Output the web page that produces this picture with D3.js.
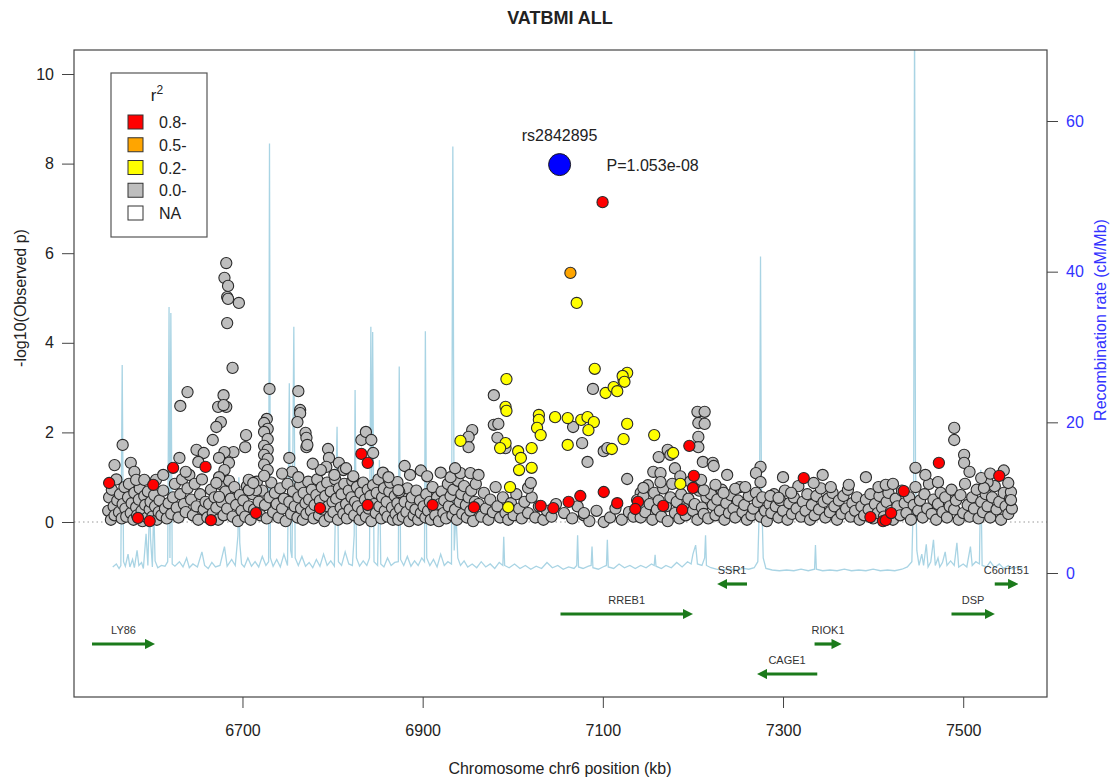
<!DOCTYPE html>
<html><head><meta charset="utf-8">
<script src="https://cdn.jsdelivr.net/npm/d3@7"></script>
<style>
body{margin:0;background:#fff;}
svg{font-family:"Liberation Sans",Arial,sans-serif;}
</style></head>
<body><svg id="c" width="1115" height="783"></svg>
<script>
// ---------- DATA ----------
const chartTitle = "VATBMI ALL";
const xTicks = [6700, 6900, 7100, 7300, 7500];
const yTicks = [0, 2, 4, 6, 8, 10];
const recTicks = [0, 20, 40, 60];
const legendLabels = ["0.8-", "0.5-", "0.2-", "0.0-", "NA"];
const legendColors = ["#ff0000", "#ffa500", "#ffff00", "#bebebe", "#ffffff"];

const leadSnp = {name: "rs2842895", kb: 7052, logp: 7.978, label: "P=1.053e-08"};

const orangePoints = [[7064, 5.56]];

const redPoints = [
 [7099.7,7.14],[7196,1.70],[7200,0.76],[7201,1.03],[7075,0.58],[7101,0.67],[7062,0.45],[7045,0.31],
 [7031,0.36],[6957,0.33],[6911,0.38],[7116,0.42],[7139,0.45],[7136,0.29],[7167,0.36],[7188,0.27],
 [6552,0.87],[6601,0.83],[6623,1.21],[6659,1.23],[6832,1.52],[6839,1.32],[6715,0.20],[6584,0.09],
 [6665,0.04],[6597,0.02],[6786,0.31],[6839,0.38],[7323,0.98],[7434,0.69],[7473,1.32],[7540,1.03],
 [7397,0.11],[7411,0.02],[7414,0.04],[7420,0.20]
];

const yellowPoints = [
 [7071,4.89],[7091,3.42],[6993,3.19],[6992,2.57],[6993,2.48],[6942,1.81],[6992,1.76],[6986,1.65],
 [7006,1.58],[7009,1.43],[7021,1.65],[7007,1.16],[7021,1.21],[7029,2.39],[7029,2.28],[7027,2.10],
 [7031,1.94],[7047,2.34],[7061,2.32],[7061,1.72],[7076,2.28],[7083,2.34],[7090,2.23],[7084,2.05],
 [7103,2.88],[7112,3.01],[7116,2.92],[7123,3.17],[7127,3.33],[7122,3.26],[7124,3.13],[7127,2.19],
 [7123,1.85],[7157,1.94],[7110,1.63],[7178,1.54],[7186,0.85],[6997,0.78],[6995,0.33]
];

const grayHigh = [
 [6682,5.78],[6680,5.45],[6684,5.27],[6683,5.02],[6684,4.98],[6696,4.89],[6683,4.44],[6689,3.44],
 [6639,2.90],[6631,2.59],[6679,2.83],[6673,2.57],[6682,2.57],[6679,2.61],[6676,2.23],[6671,2.12],
 [6667,1.83],[6704,1.94],[6703,1.67],[6730,2.97],[6727,2.30],[6724,2.21],[6728,2.08],[6724,2.01],
 [6728,1.85],[6724,1.70],[6728,1.61],[6724,1.50],[6728,1.41],[6724,1.28],[6728,1.16],[6724,1.03],
 [6762,2.92],[6764,2.50],[6764,2.43],[6761,2.23],[6770,1.99],[6771,1.88],[6771,1.67],[6567,1.72],
 [6558,1.27],[6576,1.32],[6580,1.12],[6582,0.94],[6604,0.94],[6591,0.94],[6630,1.43],[6637,1.12],
 [6649,1.61],[6657,1.54],[6651,1.34],[6690,1.56],[6680,1.56],[6674,1.43],[6685,1.32],[6680,1.16],
 [6674,1.00],[6671,0.87],[6707,0.94],[6712,0.87],[6752,1.43],[6755,1.12],[6762,1.00],[6795,1.63],
 [6796,1.43],[6793,1.23],[6787,1.16],[6807,1.32],[6812,1.16],[6832,1.83],[6837,2.01],[6843,1.83],
 [6845,1.54],[6872,0.89],[6873,0.71],[6979,2.83],[6979,2.17],[6984,2.19],[6955,2.05],[6951,1.90],
 [6951,1.67],[6983,1.88],[6992,1.65],[6931,1.00],[6942,1.09],[6953,1.09],[7089,2.97],[7067,2.12],
 [7077,1.76],[7083,1.34],[7101,1.58],[7105,1.65],[7127,0.96],[7162,1.45],[7172,1.61],[7175,1.50],
 [7205,2.46],[7206,2.21],[7213,2.46],[7213,2.19],[7206,1.90],[7206,1.67],[7156,1.12],[7164,1.09],
 [7164,0.89],[7145,0.76],[7020,0.87],[7211,1.34],[7222,1.32],[7223,1.25],[7209,0.94],[7275,1.23],
 [7270,1.09],[7275,0.89],[7334,0.87],[7447,1.21],[7472,0.89],[7490,2.10],[7490,1.83],[7501,1.50],
 [7501,1.32],[7507,1.12],[7520,0.98],[7550,0.87],[6772,1.72],
 [6778,1.30],[6802,1.05],[6815,1.20],[6823,1.02],[6856,1.10],[6862,1.00],[6880,1.25],[6886,1.05],
 [6898,1.15],[6905,1.02],[6920,1.10],[6936,1.20],[6962,1.05],[7180,1.20],[7186,1.02],[7238,1.05],
 [7300,1.00],[7344,1.05],[7392,1.00],[7458,1.05],[7530,1.08],[7545,1.15],[6612,1.05],[6744,1.08]
];

const grayLow = [
 [6551,0.25],[6552,0.55],[6554,0.05],[6555,0.72],[6557,0.35],[6558,0.15],[6560,0.95],[6561,0.48],[6563,0.22],[6564,0.62],
 [6566,0.08],[6567,0.40],[6569,0.78],[6570,0.30],[6571,0.12],[6573,0.55],[6574,0.85],[6576,0.20],[6577,0.42],[6579,0.05],
 [6580,0.65],[6582,0.33],[6583,0.15],[6585,0.50],[6586,0.75],[6588,0.25],[6589,0.02],[6591,0.58],[6592,0.38],[6594,0.10],
 [6595,0.68],[6597,0.28],[6598,0.45],[6600,0.12],[6602,0.60],[6603,0.35],[6605,0.05],[6607,0.22],[6608,0.48],[6610,0.15],
 [6612,0.70],[6614,0.30],[6616,0.08],[6618,0.42],[6621,0.18],[6623,0.55],[6625,0.85],[6627,0.32],[6629,0.10],[6631,0.62],
 [6633,0.95],[6635,0.40],[6637,0.22],[6639,0.75],[6641,1.05],[6643,0.50],[6645,0.15],[6647,0.85],[6649,0.35],[6651,0.05],
 [6653,0.62],[6655,0.95],[6657,0.28],[6659,0.45],[6661,0.10],[6663,0.40],[6665,0.72],[6667,0.20],[6669,0.55],[6671,0.32],
 [6673,0.05],[6675,0.85],[6677,0.45],[6679,0.15],[6681,0.68],[6683,0.30],[6685,0.92],[6687,0.52],[6689,0.12],[6691,0.78],
 [6693,0.38],[6695,0.02],[6697,0.60],[6699,0.25],[6701,0.48],[6703,0.12],[6705,0.80],[6707,0.35],[6709,0.05],[6711,0.62],
 [6713,0.28],[6716,0.90],[6718,0.45],[6720,0.15],[6722,0.70],[6725,0.38],[6727,0.08],[6730,0.55],[6732,0.88],[6734,0.22],
 [6736,0.65],[6738,0.40],[6740,0.10],[6742,0.75],[6744,0.30],[6746,0.52],[6748,0.02],[6750,0.85],[6752,0.45],[6754,0.18],
 [6756,0.68],[6758,0.35],[6761,0.10],[6762,0.55],[6764,0.82],[6765,0.30],[6767,0.05],[6768,0.65],[6770,0.42],[6771,0.18],
 [6773,0.90],[6774,0.50],[6776,0.25],[6777,0.72],[6779,0.08],[6780,0.38],[6782,0.60],[6783,0.95],[6785,0.15],[6786,0.48],
 [6788,0.78],[6789,0.28],[6791,0.02],[6792,0.58],[6794,0.88],[6795,0.35],[6797,0.12],[6798,0.68],[6800,0.45],[6801,0.22],
 [6803,0.95],[6804,0.52],[6806,0.05],[6807,0.75],[6809,0.32],[6810,0.62],[6812,0.18],[6813,0.85],[6815,0.40],[6816,0.08],
 [6818,0.70],[6819,0.28],[6821,0.55],[6822,0.92],[6824,0.15],[6825,0.45],[6827,0.78],[6828,0.35],[6830,0.05],[6831,0.65],
 [6833,0.25],[6834,0.88],[6836,0.50],[6837,0.12],[6839,0.72],[6840,0.30],[6842,0.58],[6843,0.02],[6845,0.82],[6846,0.40],
 [6848,0.20],[6849,0.65],[6851,0.95],[6852,0.35],[6854,0.08],[6855,0.55],[6857,0.75],[6858,0.25],[6860,0.45],[6861,0.12],
 [6863,0.68],[6864,0.88],[6866,0.32],[6867,0.05],[6869,0.58],[6870,0.18],[6872,0.42],[6873,0.05],[6875,0.30],[6877,0.62],
 [6878,0.12],[6880,0.45],[6882,0.22],[6883,0.75],[6885,0.02],[6887,0.38],[6888,0.55],[6890,0.15],[6892,0.28],[6893,0.70],
 [6895,0.05],[6897,0.48],[6898,0.20],[6901,0.35],[6903,0.10],[6904,0.62],[6906,0.25],[6908,0.45],[6909,0.05],[6911,0.78],
 [6913,0.30],[6914,0.15],[6916,0.55],[6918,0.02],[6919,0.40],[6921,0.68],[6923,0.20],[6924,0.48],[6926,0.08],[6928,0.85],
 [6929,0.35],[6931,0.58],[6933,0.15],[6934,0.72],[6936,0.28],[6938,0.05],[6939,0.92],[6941,0.45],[6943,0.62],[6944,0.18],
 [6946,0.80],[6948,0.38],[6949,0.10],[6951,0.55],[6953,0.25],[6954,0.70],[6956,0.02],[6958,0.45],[6959,0.85],
 [6962,0.40],[6965,0.12],[6968,0.65],[6970,0.30],[6973,0.05],[6975,0.50],[6978,0.22],[6981,0.78],[6983,0.35],[6986,0.10],
 [6989,0.55],[6992,0.20],[6995,0.05],[6998,0.42],[7001,0.15],[7004,0.62],[7007,0.30],[7010,0.08],[7013,0.45],[7017,0.20],
 [7021,0.55],[7025,0.10],[7029,0.35],[7034,0.05],[7038,0.25],[7043,0.12],[7048,0.40],
 [7057,0.20],[7066,0.08],[7072,0.35],[7079,0.15],[7085,0.02],[7093,0.25],[7101,0.00],[7108,0.10],[7114,0.30],[7121,0.05],
 [7129,0.22],[7134,0.12],[7142,0.65],[7138,0.49],
 [7140,0.35],[7142,0.10],[7145,0.58],[7147,0.22],[7150,0.82],[7152,0.40],[7155,0.05],[7157,0.65],[7160,0.28],[7162,0.48],
 [7165,0.12],[7167,0.75],[7170,0.35],[7172,0.02],[7175,0.55],[7177,0.85],[7180,0.20],[7182,0.45],[7185,0.08],[7187,0.62],
 [7190,0.30],[7192,0.15],[7195,0.52],[7197,0.90],[7200,0.25],[7202,0.40],[7205,0.05],[7207,0.70],[7210,0.32],[7212,0.18],
 [7215,0.55],[7217,0.08],[7220,0.62],[7222,0.38],[7225,0.15],[7227,0.50],[7230,0.25],[7232,0.72],[7235,0.05],[7237,0.42],
 [7240,0.20],[7242,0.60],[7245,0.30],[7247,0.10],[7250,0.48],[7252,0.78],[7255,0.22],[7257,0.38],[7260,0.05],[7262,0.58],
 [7265,0.15],[7267,0.30],[7270,0.65],[7272,0.45],[7275,0.12],[7277,0.55],[7280,0.25],[7282,0.02],[7285,0.40],[7287,0.20],
 [7290,0.62],[7292,0.35],[7295,0.10],[7297,0.48],[7300,0.25],[7302,0.70],[7305,0.05],[7307,0.42],[7310,0.18],[7312,0.55],
 [7315,0.30],[7317,0.80],[7320,0.12],[7322,0.45],[7325,0.25],[7327,0.62],[7330,0.05],[7332,0.38],[7335,0.15],[7337,0.58],
 [7340,0.28],[7342,0.75],[7345,0.45],[7347,0.10],[7350,0.52],[7352,0.22],[7355,0.65],[7357,0.35],[7360,0.05],[7362,0.48],
 [7365,0.18],[7367,0.58],[7370,0.30],[7372,0.72],[7375,0.12],[7377,0.42],[7380,0.25],[7382,0.55],[7385,0.05],[7387,0.35],
 [7390,0.15],[7392,0.50],[7395,0.28],[7397,0.62],[7400,0.08],[7402,0.40],[7405,0.20],[7407,0.58],[7410,0.32],[7412,0.12],
 [7415,0.45],[7417,0.65],[7420,0.25],[7422,0.05],[7425,0.52],[7427,0.35],[7430,0.15],[7432,0.70],[7435,0.42],[7437,0.20],
 [7440,0.55],[7442,0.05],[7445,0.38],[7447,0.78],[7450,0.25],[7452,0.48],[7455,0.10],[7457,0.62],[7460,0.30],[7462,0.85],
 [7465,0.18],[7467,0.50],[7470,0.05],[7472,0.40],[7475,0.65],[7477,0.22],[7480,0.55],[7482,0.10],[7485,0.35],[7487,0.72],
 [7490,0.28],[7492,0.48],[7495,0.05],[7497,0.60],[7500,0.20],[7502,0.85],[7505,0.38],[7507,0.12],[7510,0.55],[7512,0.30],
 [7515,0.72],[7517,0.08],[7520,0.45],[7522,0.22],[7525,0.62],[7527,0.35],[7530,0.10],[7532,0.55],[7535,0.80],[7537,0.28],
 [7540,0.45],[7542,0.05],[7545,0.65],[7547,0.35],[7550,0.18],[7552,0.52],[7554,0.30],
 [7202,0.78],[7212,0.71],[7225,0.83],[7234,0.65],[7247,0.74],[7258,0.78],[7286,0.58],[7295,0.54],[7309,0.65],[7353,0.78],
 [7373,0.83],[7406,0.78],[7414,0.83],[7422,0.85],[7527,0.89],[7523,0.76],[7553,0.67],[7553,0.49],[7079,0.20],[7017,0.76],
 [6874,0.67],[6715,0.71],[6707,0.71],[6674,0.56]
];

const recomb = [
 [6556,0.8],[6560,1.2],[6563,0.6],[6565,1.0],[6566.5,27.6],[6568,1.5],[6570,0.9],[6573,2.5],[6575,0.8],[6578,1.8],[6580,0.7],
 [6583,3.0],[6585,1.0],[6588,1.4],[6590,0.6],[6593,5.2],[6595,1.0],[6597,9.5],[6598,4.5],[6600,0.8],[6601.5,8.8],[6603,1.6],[6606,0.7],[6610,1.0],
 [6614,0.9],[6617,1.5],[6618.5,35.3],[6619.5,2],[6620.5,34.5],[6622,1.2],[6625,0.9],[6630,1.5],[6634,0.8],[6638,2.0],[6641,0.7],
 [6645,1.2],[6650,0.8],[6655,2.8],[6658,1.0],[6662,0.6],[6666,1.4],[6670,0.8],[6675,1.0],[6680,3.5],[6683,0.9],[6688,1.8],
 [6692,1.0],[6695,5.0],[6696,12.7],[6697,4],[6699,1.2],[6702,0.8],[6706,2.0],[6710,0.9],[6714,1.5],[6718,0.8],[6722,2.2],
 [6726,1.0],[6729,1.5],[6730,57],[6731,2],[6734,0.9],[6738,1.8],[6742,0.8],[6746,2.5],[6750,1.0],[6752,25.2],[6753.5,3],
 [6755,2],[6757,32.7],[6758.5,2],[6762,1.0],[6766,2.2],[6770,0.9],[6774,1.4],[6778,0.7],[6782,1.8],[6786,0.9],[6790,2.5],
 [6794,1.0],[6798,1.6],[6802,0.9],[6805,19.4],[6806.5,1.5],[6810,1.0],[6814,2.8],[6818,1.2],[6822,1.0],[6824,5],[6825,24.3],
 [6826.5,2],[6830,0.9],[6834,1.6],[6838,1.0],[6841,2],[6842.5,32.7],[6843.5,10],[6844.5,32],[6846,1.5],[6850,1.0],[6852,15],
 [6853.5,1.2],[6857,0.8],[6861,2.0],[6865,1.0],[6869,1.4],[6873,1.5],[6874,27.4],[6875.5,1.8],[6879,1.0],[6883,2.2],[6887,0.9],
 [6891,1.6],[6895,1.0],[6899,2.0],[6902,1.5],[6903,32.1],[6904.5,2],[6908,1.0],[6912,1.8],[6916,0.8],[6920,2.5],[6924,1.0],
 [6928,1.5],[6932,1.2],[6933.5,56.6],[6935,3],[6937,8],[6939,2],[6942,1.0],[6946,1.6],[6950,0.8],[6955,1.2],[6960,0.7],
 [6965,1.5],[6970,0.8],[6975,1.2],[6980,0.6],[6985,1.4],[6989,1.0],[6990,4.8],[6991,1.0],[6996,0.7],[7002,1.2],[7008,0.6],
 [7014,1.0],[7020,0.5],[7026,0.9],[7032,0.6],[7038,1.4],[7044,0.7],[7050,1.0],[7056,0.5],[7062,0.8],[7068,0.6],[7071,1.0],
 [7072,5.0],[7073,0.8],[7078,0.6],[7084,0.9],[7087,1.0],[7088,3.5],[7089,0.7],[7095,0.5],[7100,0.8],[7104,1.0],[7105,4.4],
 [7106,0.8],[7112,0.6],[7118,1.2],[7124,0.7],[7130,1.0],[7136,0.6],[7142,1.0],[7148,0.7],[7154,1.2],[7157,1.0],[7158,2.4],
 [7159,0.9],[7165,0.6],[7170,1.0],[7176,0.7],[7182,1.4],[7188,0.8],[7194,1.5],[7198,1.2],[7200,2.5],[7203,3.7],[7205,1.2],
 [7210,1.0],[7213,2],[7214,5.0],[7215,1],[7220,0.7],[7226,0.5],[7232,0.4],[7240,0.5],[7248,0.4],[7256,0.6],[7262,0.5],
 [7268,0.7],[7272,1.5],[7274,10],[7275,42],[7276,12],[7278,2],[7281,0.6],[7288,0.4],[7296,0.3],[7304,0.4],[7312,0.3],
 [7320,0.5],[7328,0.3],[7335,0.5],[7336,3.7],[7337,0.5],[7344,0.3],[7352,0.4],[7360,0.3],[7368,0.5],[7376,0.3],[7384,0.4],
 [7392,0.3],[7400,0.5],[7408,0.3],[7416,0.4],[7424,0.3],[7432,0.5],[7438,0.8],[7443,1.5],[7445,12],[7446,75],[7447,15],
 [7448.5,3],[7451,1.0],[7454,2.5],[7456,1.0],[7459,3.8],[7461,0.8],[7464,1.5],[7467,4.4],[7469,1.0],[7472,2],[7474,0.8],
 [7477,1.4],[7480,2.8],[7482,1.0],[7486,1.6],[7490,1.0],[7493,4.0],[7495,0.8],[7500,1.2],[7504,0.8],[7508,3.5],[7510,1.0],
 [7514,1.5],[7518,1.2],[7519.5,13.7],[7521,1.0],[7526,0.8],[7530,1.5],[7535,0.7],[7540,1.2],[7545,0.6],[7550,1.0],[7555,0.5],
 [7560,0.8],[7566,0.6]
];

const geneNames  = ["LY86", "RREB1", "SSR1", "CAGE1", "RIOK1", "DSP", "C6orf151"];
const geneStart  = [6533, 7053, 7227, 7271, 7335, 7487, 7535];
const geneEnd    = [6603, 7200, 7260, 7338, 7365, 7535, 7561];
const geneStrand = ["+", "+", "-", "-", "+", "+", "+"];
const geneRow    = [3, 2, 1, 4, 3, 2, 1];

// ---------- LAYOUT ----------
const svg = d3.select("#c");
const L = 74, R = 1047, T = 50, B = 697;
const x = d3.scaleLinear().domain([6513, 7593]).range([L, R]);
const y = d3.scaleLinear().domain([0, 10]).range([522, 74]);
const yr = d3.scaleLinear().domain([0, 60]).range([573, 121]);
const rowY = d3.scaleLinear().domain([1, 4]).range([584, 674]);

const defs = svg.append("defs");
defs.append("clipPath").attr("id", "clip")
  .append("rect").attr("x", L).attr("y", T).attr("width", R - L).attr("height", B - T);
defs.append("marker").attr("id", "arr").attr("viewBox", "0 0 10 10").attr("refX", 5).attr("refY", 5)
  .attr("markerWidth", 3.2).attr("markerHeight", 3.2).attr("orient", "auto-start-reverse")
  .append("path").attr("d", "M0,0 L10,5 L0,10 z").attr("fill", "#1b7a1b");

const g = svg.append("g").attr("clip-path", "url(#clip)");

// recombination line
g.append("path").datum(recomb)
  .attr("d", d3.line().x(d => x(d[0])).y(d => yr(d[1])))
  .attr("fill", "none").attr("stroke", "#a9d4e4").attr("stroke-width", 1.3);

// zero dotted line
g.append("line").attr("x1", L).attr("x2", R).attr("y1", y(0)).attr("y2", y(0))
  .attr("stroke", "#999").attr("stroke-dasharray", "1.5,3").attr("stroke-width", 1);

function pts(data, fill, r) {
  g.append("g").selectAll("circle").data(data).join("circle")
    .attr("cx", d => x(d[0])).attr("cy", d => y(d[1])).attr("r", r)
    .attr("fill", fill).attr("stroke", "#2a2a2a").attr("stroke-width", 1.1);
}
pts(grayLow, "#bebebe", 5.6);
pts(grayHigh, "#bebebe", 5.6);
pts(redPoints, "#ff0000", 5.6);
pts(yellowPoints, "#ffff00", 5.6);
pts(orangePoints, "#ffa500", 5.6);

// lead snp
g.append("circle").attr("cx", x(leadSnp.kb)).attr("cy", y(leadSnp.logp)).attr("r", 11)
  .attr("fill", "#0000ff").attr("stroke", "#1a1a1a").attr("stroke-width", 1);
svg.append("text").attr("x", x(leadSnp.kb)).attr("y", y(leadSnp.logp) - 24)
  .attr("text-anchor", "middle").attr("font-size", 16).attr("fill", "#222").text(leadSnp.name);
svg.append("text").attr("x", x(leadSnp.kb) + 47).attr("y", y(leadSnp.logp) + 6)
  .attr("font-size", 16).attr("fill", "#222").text(leadSnp.label);

// genes
const genes = geneNames.map((n, i) => ({n, s: geneStart[i], e: geneEnd[i], st: geneStrand[i], r: geneRow[i]}));
const gg = svg.append("g");
gg.selectAll("line").data(genes).join("line")
  .attr("x1", d => d.st === "+" ? x(d.s) : x(d.e))
  .attr("x2", d => d.st === "+" ? x(d.e) - 5 : x(d.s) + 5)
  .attr("y1", d => rowY(d.r)).attr("y2", d => rowY(d.r))
  .attr("stroke", "#1b7a1b").attr("stroke-width", 3.2).attr("marker-end", "url(#arr)");
gg.selectAll("text").data(genes).join("text")
  .attr("x", d => (x(d.s) + x(d.e)) / 2).attr("y", d => rowY(d.r) - 10)
  .attr("text-anchor", "middle").attr("font-size", 11).attr("fill", "#333").text(d => d.n);

// frame
svg.append("rect").attr("x", L).attr("y", T).attr("width", R - L).attr("height", B - T)
  .attr("fill", "none").attr("stroke", "#444").attr("stroke-width", 1.2);

// axes
const ax1 = svg.append("g").attr("transform", `translate(${L},0)`)
  .call(d3.axisLeft(y).tickValues(yTicks).tickSize(12).tickPadding(8).tickFormat(d3.format("d")));
ax1.select(".domain").remove();
ax1.selectAll("text").attr("font-size", 16).attr("fill", "#222").attr("font-family", "Liberation Sans, Arial");
ax1.selectAll("line").attr("stroke", "#444");

const ax2 = svg.append("g").attr("transform", `translate(${R},0)`)
  .call(d3.axisRight(yr).tickValues(recTicks).tickSize(11).tickPadding(8));
ax2.select(".domain").remove();
ax2.selectAll("text").attr("font-size", 16).attr("fill", "#3333ff").attr("font-family", "Liberation Sans, Arial");
ax2.selectAll("line").attr("stroke", "#444");

const ax3 = svg.append("g").attr("transform", `translate(0,${B})`)
  .call(d3.axisBottom(x).tickValues(xTicks).tickSize(11).tickPadding(17).tickFormat(d3.format("d")));
ax3.select(".domain").remove();
ax3.selectAll("text").attr("font-size", 16).attr("fill", "#222").attr("font-family", "Liberation Sans, Arial");
ax3.selectAll("line").attr("stroke", "#444");

// titles
svg.append("text").attr("x", 560).attr("y", 24).attr("text-anchor", "middle")
  .attr("font-size", 18).attr("font-weight", "bold").attr("fill", "#222").text(chartTitle);
svg.append("text").attr("x", 560).attr("y", 774).attr("text-anchor", "middle")
  .attr("font-size", 16).attr("fill", "#222").text("Chromosome chr6 position (kb)");
svg.append("text").attr("transform", "translate(26,298) rotate(-90)").attr("text-anchor", "middle")
  .attr("font-size", 16).attr("fill", "#222").text("-log10(Observed p)");
svg.append("text").attr("transform", "translate(1106,320) rotate(-90)").attr("text-anchor", "middle")
  .attr("font-size", 16).attr("fill", "#3333ff").text("Recombination rate (cM/Mb)");

// legend
const lg = svg.append("g");
lg.append("rect").attr("x", 111).attr("y", 73).attr("width", 96).attr("height", 164)
  .attr("fill", "#fff").attr("stroke", "#555").attr("stroke-width", 1.2);
const rt = lg.append("text").attr("x", 157).attr("y", 101).attr("text-anchor", "middle")
  .attr("font-size", 17).attr("fill", "#222");
rt.append("tspan").text("r");
rt.append("tspan").attr("dy", -7).attr("font-size", 12).text("2");
const ly = d3.scalePoint().domain(legendLabels).range([122, 213]);
lg.selectAll("rect.k").data(legendLabels).join("rect").attr("class", "k")
  .attr("x", 128).attr("y", d => ly(d) - 7).attr("width", 15).attr("height", 14)
  .attr("fill", (d, i) => legendColors[i]).attr("stroke", "#333");
lg.selectAll("text.k").data(legendLabels).join("text").attr("class", "k")
  .attr("x", 159).attr("y", d => ly(d) + 6).attr("font-size", 16).attr("fill", "#222").text(d => d);
</script></body></html>
